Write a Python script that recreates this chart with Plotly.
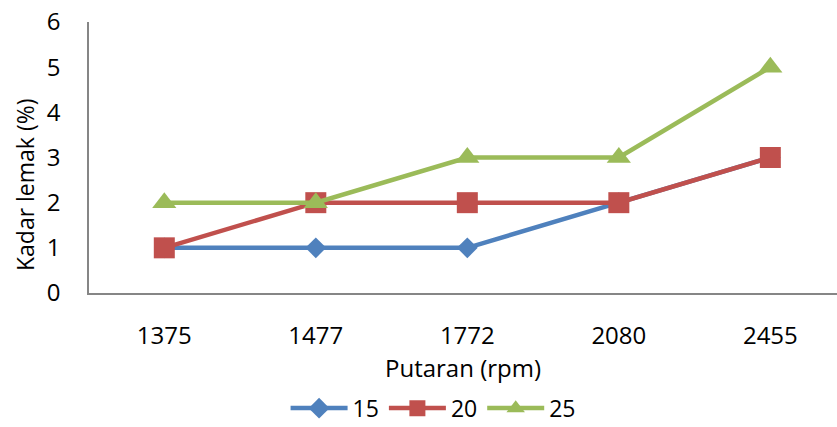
import plotly.graph_objects as go

categories = ["1375", "1477", "1772", "2080", "2455"]
s15 = [1, 1, 1, 2, 3]
s20 = [1, 2, 2, 2, 3]
s25 = [2, 2, 3, 3, 5]
series_names = ["15", "20", "25"]

colors = ["#4F81BD", "#C0504D", "#9BBB59"]
symbols = ["diamond", "square", "triangle-up"]
sizes = [16, 21, 21]

fig = go.Figure()
for name, vals, c, sym, sz in zip(series_names, [s15, s20, s25], colors, symbols, sizes):
    fig.add_trace(go.Scatter(
        x=categories, y=vals, name=name, mode="lines+markers",
        line=dict(color=c, width=4.5),
        marker=dict(symbol=sym, size=sz, color=c),
    ))

fig.update_layout(
    width=837, height=427,
    margin=dict(l=89, r=0, t=22, b=134, autoexpand=False),
    paper_bgcolor="white", plot_bgcolor="white",
    font=dict(family="Open Sans, Segoe UI, sans-serif", size=24, color="#000000"),
    showlegend=True,
    legend=dict(orientation="h", x=0.46, xanchor="center", y=-0.425, yanchor="middle",
                font=dict(size=23), itemwidth=57),
    xaxis=dict(
        type="category", range=[-0.497, 4.44], automargin=False,
        showline=True, linecolor="#868686", linewidth=1.5,
        showgrid=False, zeroline=False, ticks="",
        ticklabelstandoff=20,
        title=dict(text="Putaran (rpm)", standoff=0, font=dict(size=24)),
    ),
    yaxis=dict(
        range=[0, 6], dtick=1, automargin=False,
        showline=True, linecolor="#868686", linewidth=1.5,
        showgrid=False, zeroline=False, ticks="",
        ticklabelstandoff=22,
    ),
    annotations=[dict(
        text="Kadar lemak (%)", textangle=-90,
        xref="paper", yref="paper", x=-0.0855, y=0.3985,
        xanchor="center", yanchor="middle", showarrow=False,
        font=dict(size=23),
    )],
)

fig.write_html(
    "out.html",
    config={"displayModeBar": False},
    post_script="document.body.style.margin='0';document.body.style.overflow='hidden';",
)
